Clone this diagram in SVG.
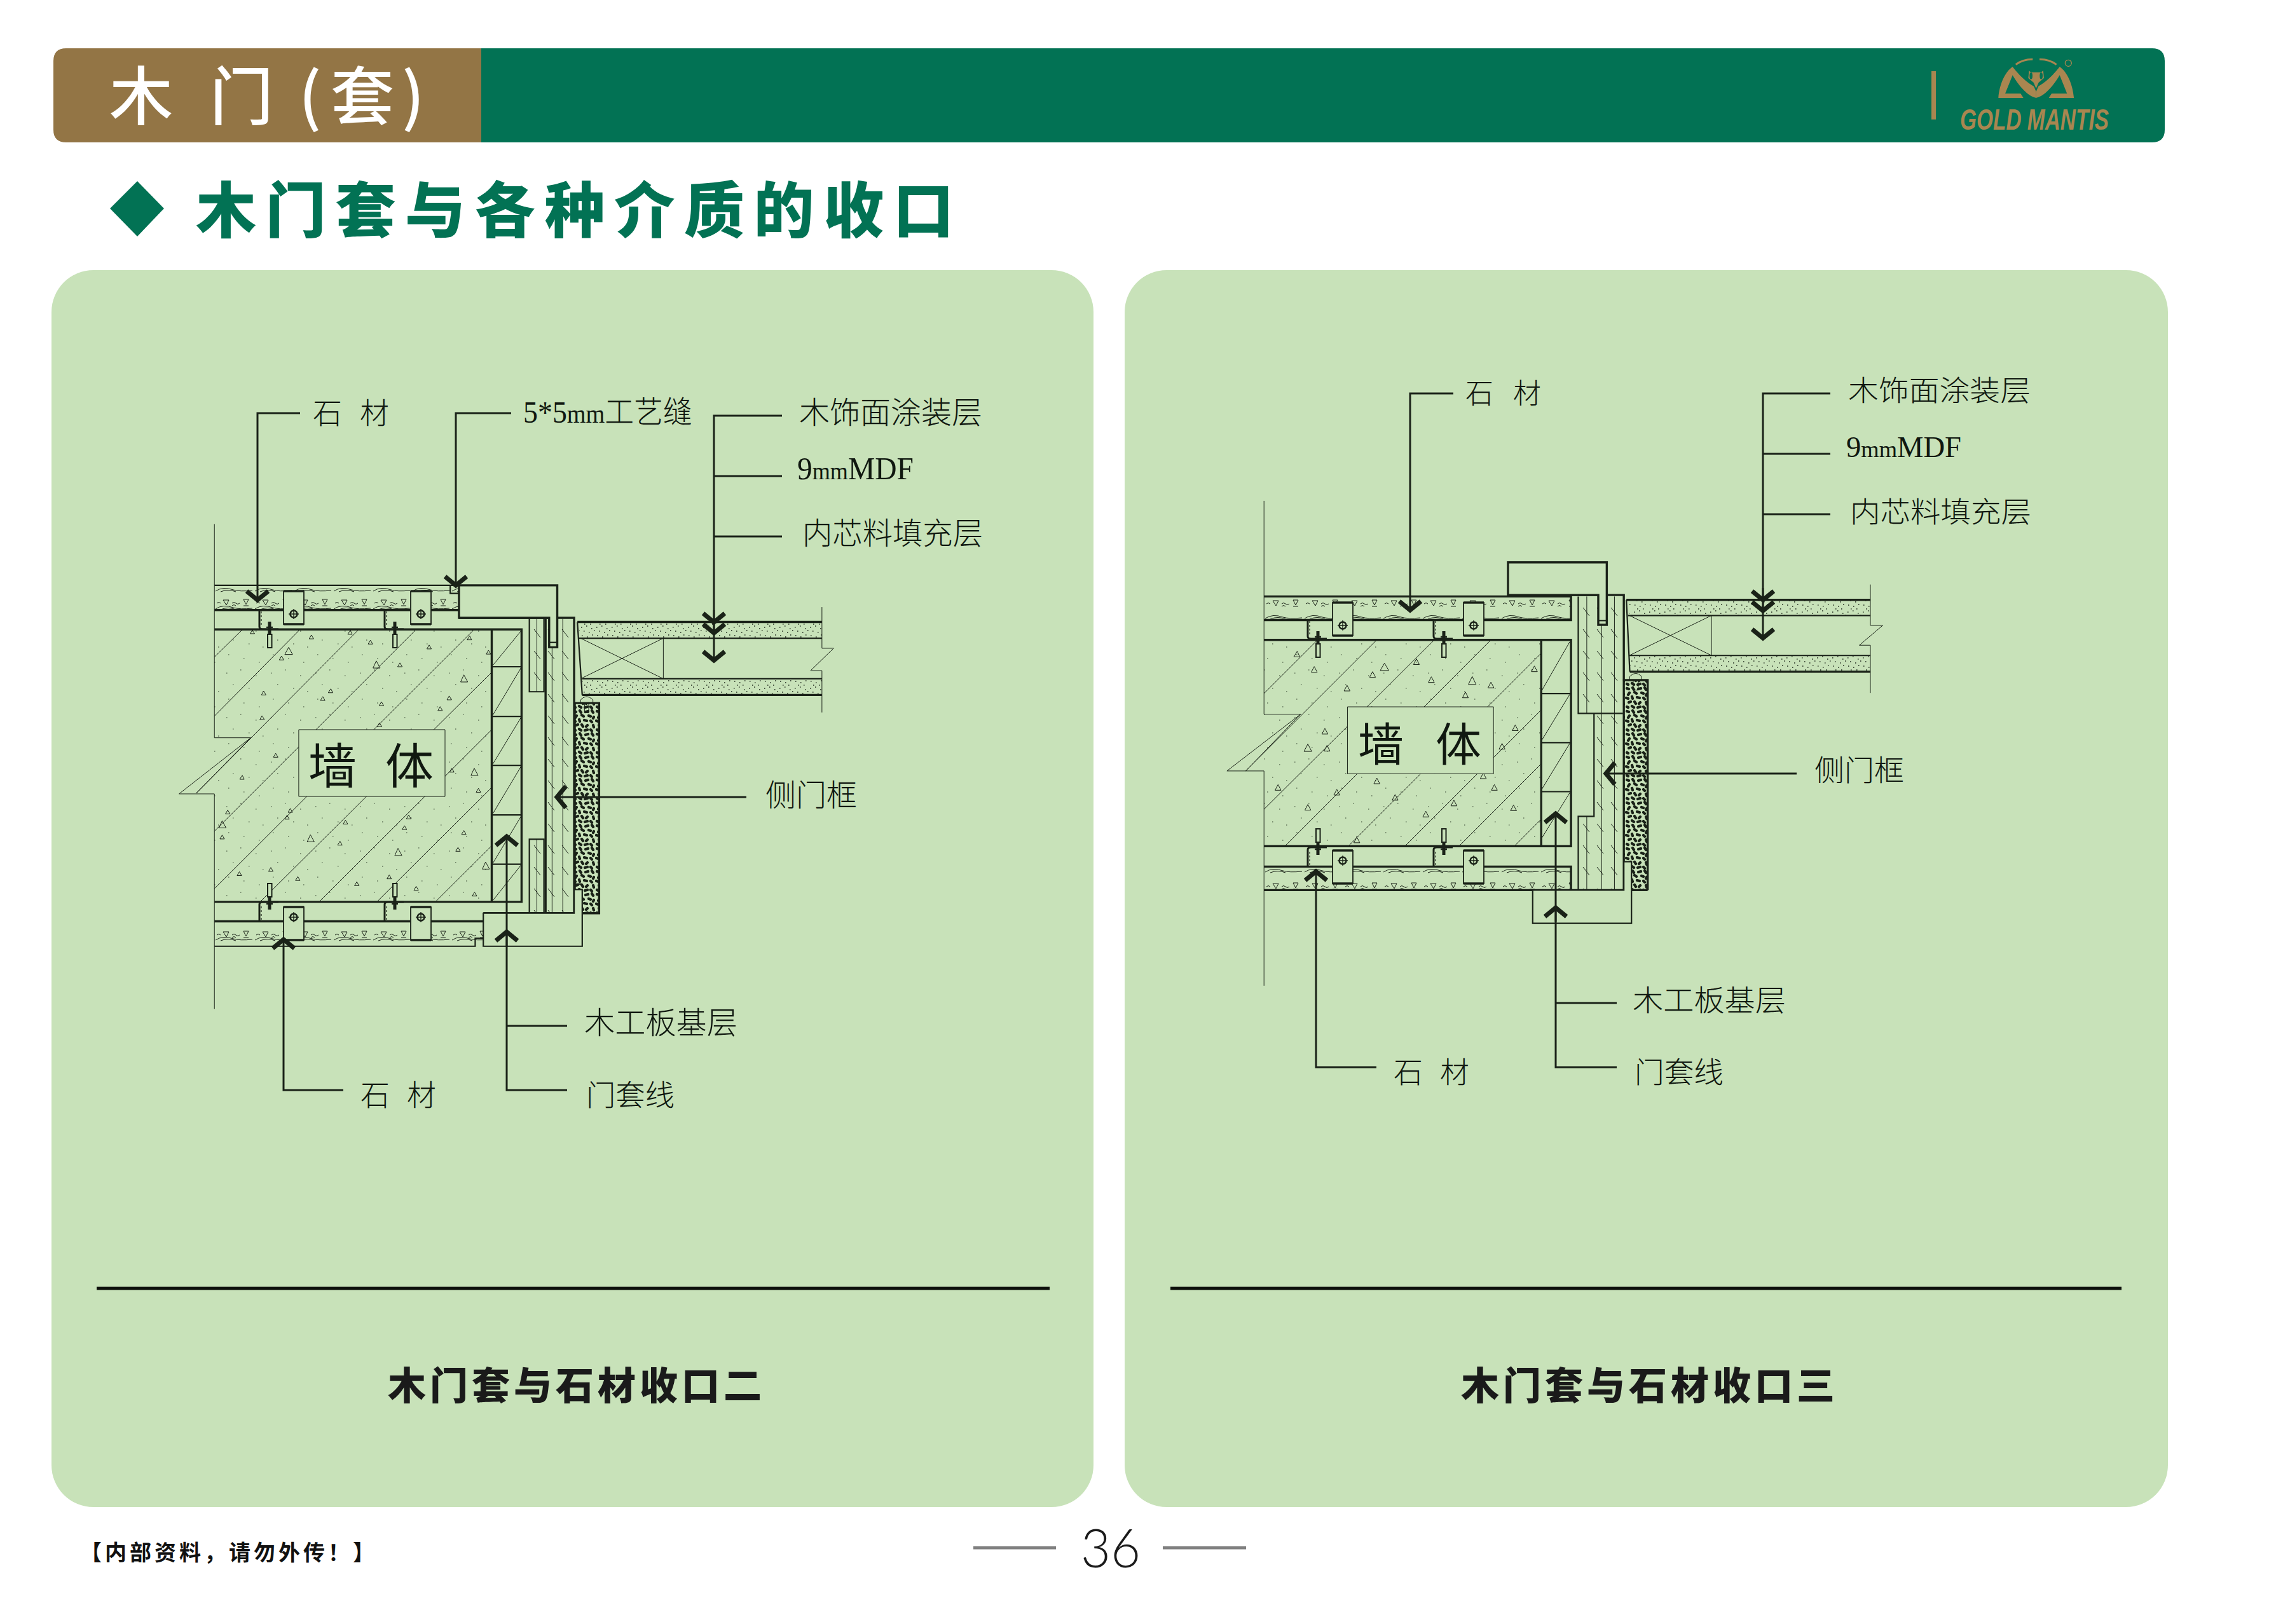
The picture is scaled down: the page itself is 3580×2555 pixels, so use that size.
<svg xmlns="http://www.w3.org/2000/svg" width="3580" height="2555" viewBox="0 0 3580 2555">
<style>
.cjk{font-family:"Noto Sans CJK SC",sans-serif}
.lab{font-family:"Noto Sans CJK SC",sans-serif;font-weight:300;fill:#101810}
.lat{font-family:"Liberation Serif","Noto Sans CJK SC",serif;font-weight:300;fill:#101810}
.t,.m,.f{fill:none;stroke:#1a2218;vector-effect:non-scaling-stroke}
.t{stroke-width:3.4}
.m{stroke-width:2.2}
.f{stroke-width:1}
.pf{fill:#c8e2b9}
.ld{fill:none;stroke:#1a2218;stroke-width:3}
.panel{fill:#c8e2b9}
.rule{fill:#0c0f0a}
.sub{font-family:"Noto Sans CJK SC",sans-serif;font-weight:900;font-size:60px;letter-spacing:6px;fill:#1a1a1a}
</style>
<defs>
<marker id="chev" markerUnits="userSpaceOnUse" orient="auto" markerWidth="30" markerHeight="48" viewBox="0 0 30 48" refX="22" refY="24" overflow="visible">
<path d="M8,7 L22,24 L8,41" fill="none" stroke="#1a2218" stroke-width="7"/>
</marker>
<pattern id="foam" patternUnits="userSpaceOnUse" width="36" height="36">
<path d="M3,3l3,1M12,2l2,3M21,4l4,-1M31,2l2,3M7,10l-2,3M15,9l3,2M26,10l3,1M34,12l-1,2M2,18l3,1M11,16l1,3M19,17l4,1M29,18l2,2M6,25l3,-1M15,24l2,3M24,25l-2,2M33,25l1,3M3,32l2,1M11,31l3,2M20,33l4,-1M29,32l2,2" fill="none" stroke="#1a2218" stroke-width="4.2" stroke-linecap="round"/>
</pattern>
<pattern id="stip" patternUnits="userSpaceOnUse" width="70" height="70">
<path d="M6,9h1.5M28,4h1.5M52,13h1.5M16,27h1.5M41,33h1.5M63,38h1.5M9,50h1.5M33,56h1.5M57,62h1.5" stroke="#2b3a28" stroke-width="1.2" fill="none"/>
</pattern>
<pattern id="dstip" patternUnits="userSpaceOnUse" width="24" height="24">
<path d="M2,3h1.5M10,1h1.5M18,5h1.5M6,9h1.5M14,11h1.5M22,8h1.5M3,16h1.5M11,18h1.5M19,15h1.5M7,22h1.5M16,22h1.5" stroke="#1a2218" stroke-width="1.3" fill="none"/>
</pattern>
<pattern id="wood" patternUnits="userSpaceOnUse" width="22" height="34">
<path d="M4,4l10,13" stroke="#1a2218" stroke-width="1" fill="none"/>
</pattern>
<pattern id="marks" patternUnits="userSpaceOnUse" width="62" height="16">
<path d="M4,9q3,-3 6,0M14,4h9l-4,8zM28,9q3,-3 6,0q3,3 6,0M28,13q3,-3 6,0M46,3h8l-4,8zM46,13h8" stroke="#1a2218" stroke-width="1" fill="none"/>
</pattern>
<pattern id="wave" patternUnits="userSpaceOnUse" width="62" height="9">
<path d="M2,7Q14,-1 30,5Q40,8 60,6M10,8Q22,3 34,8" stroke="#1a2218" stroke-width="1" fill="none"/>
</pattern>
<g id="clip">
<rect x="0" y="0" width="32" height="52" fill="#c8e2b9" stroke="#1a2218" stroke-width="1.8"/>
<path d="M0,0H32M0,52H32" stroke="#1a2218" stroke-width="3.5" fill="none"/>
<circle cx="16" cy="36" r="5.5" fill="none" stroke="#1a2218" stroke-width="2.5"/>
<path d="M16,28V44M8,36H24" stroke="#1a2218" stroke-width="1.4" fill="none"/>
</g>
<g id="anchor">
<path d="M0,0V26Q0,30 5,30H30" fill="none" stroke="#1a2218" stroke-width="3"/>
<path d="M3,2V26" fill="none" stroke="#1a2218" stroke-width="1.2" stroke-dasharray="3 3"/>
<path d="M16,18V40" fill="none" stroke="#1a2218" stroke-width="5"/>
<rect x="13" y="38" width="6.5" height="21" fill="#c8e2b9" stroke="#1a2218" stroke-width="2"/>
<path d="M11,27h10" stroke="#1a2218" stroke-width="2.5" fill="none"/>
</g>
</defs>

<rect width="3580" height="2555" fill="#ffffff"/>

<g id="header">
<path d="M757,76H3385Q3405,76 3405,96V204Q3405,224 3385,224H757Z" fill="#027254"/>
<path d="M757,76H104Q84,76 84,96V204Q84,224 104,224H757Z" fill="#937545"/>
<text class="cjk" y="188" font-size="100" font-weight="500" fill="#ffffff" xml:space="preserve"><tspan x="172">木 </tspan><tspan x="330">门 </tspan><tspan x="470">(</tspan><tspan x="520">套</tspan><tspan x="632">)</tspan></text>
</g>
<g id="logo" fill="#a98650">
<rect x="3038" y="112" width="7" height="76"/>
<g transform="translate(3000,60) scale(.33333)">
<path d="M430,280C435,220 460,160 497,135C520,165 565,215 608,232V282C570,275 530,230 497,175L462,262H535L548,282H430Z"/>
<path d="M786,280C781,220 756,160 719,135C696,165 651,215 608,232V282C646,275 686,230 719,175L754,262H681L668,282H786Z"/>
<path d="M572,148L585,158H630L644,148L648,190L622,212L608,245L594,212L568,190Z" stroke="#027254" stroke-width="6"/>
<ellipse cx="584" cy="178" rx="7" ry="16" fill="#027254"/>
<ellipse cx="632" cy="178" rx="7" ry="16" fill="#027254"/>
<path d="M512,125Q545,100 592,100M704,125Q671,100 624,100" fill="none" stroke="#a98650" stroke-width="9"/>
<circle cx="760" cy="118" r="15" fill="none" stroke="#a98650" stroke-width="4"/>
</g>
<text x="3083" y="204" font-family="Liberation Sans, sans-serif" font-style="italic" font-weight="700" font-size="46" textLength="234" lengthAdjust="spacingAndGlyphs">GOLD MANTIS</text>
</g>

<g id="section-title">
<path d="M216,285L258,328L216,372L173,328Z" fill="#027254"/>
<text class="cjk" x="308" y="366" font-size="95" font-weight="900" letter-spacing="14.700" fill="#027254">木门套与各种介质的收口</text>
</g>

<g id="panel-left">
<rect class="panel" x="81" y="425" width="1639" height="1946" rx="66"/>
<rect class="rule" x="152" y="2024.500" width="1499" height="5"/>
<text class="sub" x="610" y="2202">木门套与石材收口二</text>
</g>
<g id="panel-right">
<rect class="panel" x="1769" y="425" width="1641" height="1946" rx="66"/>
<rect class="rule" x="1841" y="2024.500" width="1496" height="5"/>
<text class="sub" x="2298" y="2202">木门套与石材收口三</text>
</g>

<g id="textures-left">
<rect x="337" y="990" width="436" height="429" fill="url(#stip)"/>
<rect x="911" y="981" width="382" height="23" fill="url(#dstip)"/>
<rect x="916" y="1068" width="377" height="24" fill="url(#dstip)"/>
<rect x="904" y="1106" width="38" height="331" fill="url(#foam)"/>
<rect x="834" y="973" width="22" height="114" fill="url(#wood)"/>
<rect x="834" y="1321" width="22" height="115" fill="url(#wood)"/>
<rect x="859" y="973" width="43" height="463" fill="url(#wood)"/>
<rect transform="translate(337,923)" width="385" height="9" fill="url(#wave)"/>
<rect transform="translate(337,940)" width="385" height="16" fill="url(#marks)"/>
<rect transform="translate(337,951)" width="385" height="9" fill="url(#wave)"/>
<rect transform="translate(337,1462)" width="423" height="16" fill="url(#marks)"/>
<rect transform="translate(337,1472)" width="423" height="9" fill="url(#wave)"/>
</g>
<g id="drawing-left" transform="translate(250,800) scale(.5102)">
<path class="f" d="M171,48V707H283L62,880H171V1543"/>
<path class="f" d="M283,707L115,878M171,458L258,373M171,640L435,373M115,878L614,375M171,995L793,373M171,1172L972,373M312,1213L1026,505M497,1210L1026,682M675,1210L1026,860M855,1210L1026,1040"/>
<path class="f" d="M288,376l-7,10h14zM470,390l-7,12h14zM590,376l-8,12h14zM652,406l-7,12h14zM833,421l-7,12h14zM958,393l-8,12h14zM1016,437l-7,12h14zM400,428l-12,22h24zM378,455l-7,12h14zM670,470l-10,22h22zM743,476l-7,12h14zM940,513l-10,22h22zM895,578l-7,12h14zM867,611l-7,12h14zM323,563l-7,12h14zM530,556l-8,12h14zM505,580l-7,12h14zM686,596l-7,12h14zM318,639l-7,12h14zM680,661l-7,12h14zM360,755l-7,12h14zM257,823l-8,12h14zM903,801l-7,12h14zM972,801l-10,22h22zM985,863l-7,12h14zM212,930l-7,12h14zM405,925l-7,12h14zM395,946l-7,12h14zM195,963l-10,22h22zM195,1007l-7,12h14zM575,961l-7,12h14zM770,945l-7,12h14zM757,978l-7,12h14zM467,1006l-10,22h22zM558,1026l-7,12h14zM940,993l-7,12h14zM737,1048l-10,22h22zM922,1045l-7,12h14zM1007,1090l-10,22h22zM345,1107l-7,12h14zM248,1120l-7,12h14zM428,1135l-7,12h14zM710,1130l-7,12h14zM610,1151l-7,12h14zM793,1165l-7,12h14zM973,1183l-7,12h14z"/>
<path class="t" d="M171,373H1118V1213H171M1026,373V1213"/>
<path class="m" d="M1026,488H1118M1026,641H1118M1026,792H1118M1026,945H1118M1026,1097H1118"/>
<path class="f" d="M1030,483L1116,378M1030,636L1116,492M1030,787L1116,645M1030,940L1116,796M1030,1093L1116,950M1030,1208L1116,1100"/>
<path class="m" d="M171,237H925M898,237V262H925"/>
<path class="t" d="M171,313H925"/>
<path class="m" d="M1142,337V565H1187V337M1142,1248V1020H1187V1248"/>
<path class="f" d="M1165,337V565M1165,1020V1248M1212,428V1248M1245,340V1248"/>
<path class="t" d="M1192,337V1248M925,337H1280V1248H1000"/>
<path class="t pf" d="M925,237H1228V428H1203V337H925Z"/>
<path class="m" d="M1203,413H1228"/>
<path class="t" d="M171,1273H1000"/>
<path class="m" d="M171,1350H975V1325H1000"/>
<path class="m pf" d="M1000,1248H1280V1175H1305V1350H1000Z"/>
<path class="t" d="M1282,600H1357V1248H1305M1282,600V1175"/>
<path class="m" d="M1280,1158H1305"/>
<path class="f" d="M1300,600V590Q1318,570 1338,590V600M1312,600V630H1325V600"/>
<path class="t" d="M1290,350H2044M1305,575H2044"/>
<path class="m" d="M1295,400H2044M1305,525H2044M1290,350L1305,575"/>
<path class="f" d="M1300,400L1555,525M1300,525L1555,400M1555,400V525"/>
<path class="f" d="M2044,304V431H2080L2009,500H2044V629"/>
<rect class="f pf" x="431" y="682" width="451" height="206"/>
</g>
<g id="fixings-left">
<use href="#clip" x="446" y="930"/>
<use href="#clip" x="646" y="930"/>
<use href="#clip" transform="translate(446,1479) scale(1,-1)"/>
<use href="#clip" transform="translate(646,1479) scale(1,-1)"/>
<use href="#anchor" x="408" y="960"/>
<use href="#anchor" x="605" y="960"/>
<use href="#anchor" transform="translate(408,1449) scale(1,-1)"/>
<use href="#anchor" transform="translate(605,1449) scale(1,-1)"/>
</g>

<g id="textures-right">
<rect x="1988" y="1007" width="436" height="324" fill="url(#stip)"/>
<rect x="2563" y="945" width="379" height="23" fill="url(#dstip)"/>
<rect x="2563" y="1031" width="379" height="26" fill="url(#dstip)"/>
<rect x="2553" y="1070" width="39" height="332" fill="url(#foam)"/>
<rect x="2483" y="939" width="24" height="183" fill="url(#wood)"/>
<rect x="2483" y="1285" width="24" height="115" fill="url(#wood)"/>
<rect x="2508" y="939" width="44" height="461" fill="url(#wood)"/>
<rect transform="translate(1988,941)" width="483" height="16" fill="url(#marks)"/>
<rect transform="translate(1988,966)" width="483" height="9" fill="url(#wave)"/>
<rect transform="translate(1988,1365)" width="483" height="9" fill="url(#wave)"/>
<rect transform="translate(1988,1386)" width="483" height="16" fill="url(#marks)"/>
</g>
<g id="drawing-right" transform="translate(1950,800) scale(.6698,.4464)">
<path class="f" d="M57,-27V725H143L-30,925H57V1682"/>
<path class="f" d="M143,725L14,925M57,652L183,463M14,925L322,463M57,1060L457,463M106,1190L590,463M255,1190L708,510M388,1190L708,710M515,1190L708,900M645,1190L708,1095"/>
<path class="f" d="M135,503l-8,20h14zM175,557l-7,20h14zM340,545l-10,26h20zM312,575l-7,20h14zM415,530l-7,20h14zM252,623l-7,20h14zM450,593l-7,20h14zM546,592l-9,28h18zM590,612l-7,20h14zM530,647l-7,20h14zM692,555l-7,20h14zM200,775l-7,20h14zM160,830l-9,26h18zM205,835l-7,20h14zM647,763l-7,20h14zM616,828l-7,20h14zM322,950l-7,20h14zM572,932l-7,20h14zM598,973l-7,20h14zM90,973l-7,20h14zM228,990l-7,20h14zM365,1008l-7,20h14zM503,1028l-7,20h14zM160,1043l-7,20h14zM643,1045l-7,20h14zM437,1067l-7,20h14zM275,1158l-7,20h14z"/>
<path class="t" d="M57,463H778V1190H57M708,463V1190M57,393H778V310H57"/>
<path class="m" d="M708,652H778M708,825H778M708,998H778"/>
<path class="f" d="M710,640L775,470M710,815L775,655M710,988L775,828M710,1160L775,1002"/>
<path class="m" d="M795,310V722H900M795,1345V1085H832V722"/>
<path class="f" d="M815,310V722M815,1085V1345M850,400V1345M880,310V1345"/>
<path class="t" d="M630,305H902V1345M57,1262H778V1345M57,1345H958"/>
<path class="t pf" d="M630,305V190H862V410H842V305Z"/>
<path class="m" d="M842,395H862"/>
<path class="m pf" d="M688,1345H902V1245H920V1462H688Z"/>
<path class="t" d="M900,605H958V1345"/>
<path class="f" d="M916,605V592Q930,570 944,592V605M924,605V640H936V605"/>
<path class="t" d="M908,322H1481M916,575H1481"/>
<path class="m" d="M908,322L916,575M912,377H1481M916,518H1481"/>
<path class="f" d="M915,377L1108,518M915,518L1108,377M1108,377V518"/>
<path class="f" d="M1481,268V412H1510L1455,482H1481V650"/>
<rect class="f pf" x="253" y="699" width="343" height="236"/>
</g>
<g id="fixings-right">
<use href="#clip" x="2096" y="948"/>
<use href="#clip" x="2302" y="948"/>
<use href="#clip" transform="translate(2096,1390) scale(1,-1)"/>
<use href="#clip" transform="translate(2302,1390) scale(1,-1)"/>
<use href="#anchor" x="2057" y="975"/>
<use href="#anchor" x="2255" y="975"/>
<use href="#anchor" transform="translate(2057,1363) scale(1,-1)"/>
<use href="#anchor" transform="translate(2255,1363) scale(1,-1)"/>
</g>

<g id="connectors-left">
<path class="ld" d="M472,650H405V944" marker-end="url(#chev)"/>
<path class="ld" d="M804,650H717V921" marker-end="url(#chev)"/>
<path class="ld" d="M1230,654H1123V1039" marker-end="url(#chev)"/>
<path class="ld" d="M1123,960V979" marker-end="url(#chev)"/>
<path class="ld" d="M1123,980V996" marker-end="url(#chev)"/>
<path class="ld" d="M1123,749H1230M1123,844H1230"/>
<path class="ld" d="M1174,1254H876" marker-end="url(#chev)"/>
<path class="ld" d="M892,1715H797V1316" marker-end="url(#chev)"/>
<path class="ld" d="M797,1490V1466" marker-end="url(#chev)"/>
<path class="ld" d="M797,1614H892"/>
<path class="ld" d="M540,1715H446V1478" marker-end="url(#chev)"/>
</g>
<g id="connectors-right">
<path class="ld" d="M2286,619H2218V960" marker-end="url(#chev)"/>
<path class="ld" d="M2879,619H2773V1004" marker-end="url(#chev)"/>
<path class="ld" d="M2773,925V944" marker-end="url(#chev)"/>
<path class="ld" d="M2773,945V961" marker-end="url(#chev)"/>
<path class="ld" d="M2773,714H2879M2773,809H2879"/>
<path class="ld" d="M2826,1217H2526" marker-end="url(#chev)"/>
<path class="ld" d="M2543,1679H2447V1280" marker-end="url(#chev)"/>
<path class="ld" d="M2447,1450V1428" marker-end="url(#chev)"/>
<path class="ld" d="M2447,1578H2543"/>
<path class="ld" d="M2165,1679H2070V1371" marker-end="url(#chev)"/>
</g>

<g id="labels-left">
<text id="l-wall" class="lab" style="font-weight:400" font-size="76" y="1233" x="485 570 606">墙 体</text>
<text id="l-stone-top" class="lab" font-size="46" y="666" x="492 530 566">石 材</text>
<text id="l-joint" class="lat" font-size="48" x="823" y="665" textLength="266" lengthAdjust="spacingAndGlyphs">5*5<tspan font-size="40">mm</tspan>工艺缝</text>
<text id="l-finish" class="lab" font-size="48" x="1257" y="666" textLength="288" lengthAdjust="spacingAndGlyphs">木饰面涂装层</text>
<text id="l-mdf" class="lat" font-size="50" x="1254" y="754" textLength="183" lengthAdjust="spacingAndGlyphs">9<tspan font-size="38">mm</tspan>MDF</text>
<text id="l-core" class="lab" font-size="48" x="1262" y="856" textLength="284" lengthAdjust="spacingAndGlyphs">内芯料填充层</text>
<text id="l-frame" class="lab" font-size="48" x="1204" y="1268" textLength="144" lengthAdjust="spacingAndGlyphs">侧门框</text>
<text id="l-base" class="lab" font-size="48" x="919" y="1626" textLength="241" lengthAdjust="spacingAndGlyphs">木工板基层</text>
<text id="l-trim" class="lab" font-size="46" x="922" y="1739" textLength="139" lengthAdjust="spacingAndGlyphs">门套线</text>
<text id="l-stone-bot" class="lab" font-size="46" y="1739" x="567 605 640">石 材</text>
</g>
<g id="labels-right">
<text id="r-wall" class="lab" style="font-weight:400" font-size="72" y="1197" x="2136 2220 2258">墙 体</text>
<text id="r-stone-top" class="lab" font-size="44" y="635" x="2305 2345 2380">石 材</text>
<text id="r-finish" class="lab" font-size="45" x="2907" y="631" textLength="287" lengthAdjust="spacingAndGlyphs">木饰面涂装层</text>
<text id="r-mdf" class="lat" font-size="46" x="2904" y="719" textLength="181" lengthAdjust="spacingAndGlyphs">9<tspan font-size="36">mm</tspan>MDF</text>
<text id="r-core" class="lab" font-size="45" x="2910" y="822" textLength="285" lengthAdjust="spacingAndGlyphs">内芯料填充层</text>
<text id="r-frame" class="lab" font-size="46" x="2854" y="1228" textLength="141" lengthAdjust="spacingAndGlyphs">侧门框</text>
<text id="r-base" class="lab" font-size="46" x="2568" y="1590" textLength="241" lengthAdjust="spacingAndGlyphs">木工板基层</text>
<text id="r-trim" class="lab" font-size="46" x="2571" y="1703" textLength="140" lengthAdjust="spacingAndGlyphs">门套线</text>
<text id="r-stone-bot" class="lab" font-size="46" y="1703" x="2192 2230 2265">石 材</text>
</g>

<g id="footer">
<text class="cjk" x="126" y="2455" font-size="34" font-weight="700" letter-spacing="5" fill="#111111">【内部资料，请勿外传！】</text>
<rect x="1531" y="2432.500" width="130" height="5" fill="#808080"/>
<rect x="1829" y="2432.500" width="131" height="5" fill="#808080"/>
<text x="1700" y="2466" font-family="Lato, sans-serif" font-weight="300" font-size="85" fill="#1a1a1a" textLength="94" lengthAdjust="spacingAndGlyphs">36</text>
</g>
</svg>
